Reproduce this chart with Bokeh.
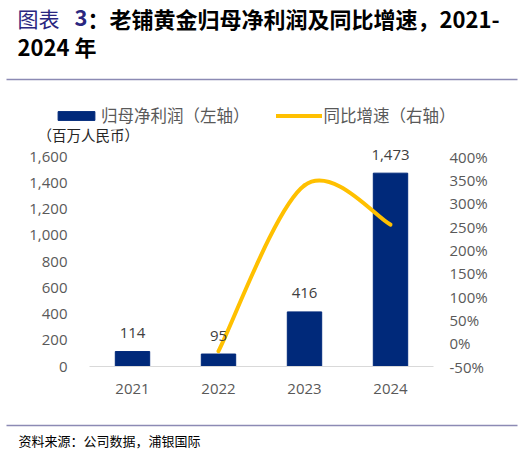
from bokeh.plotting import figure
from bokeh.layouts import column
from bokeh.models import (Range1d, LinearAxis, FixedTicker, NumeralTickFormatter,
                          PrintfTickFormatter, ColumnDataSource, LabelSet, Label,
                          Legend, LegendItem, BoxAnnotation)
from bokeh.core.properties import value
from bokeh.embed import file_html
from bokeh.resources import INLINE

years = ["2021", "2022", "2023", "2024"]
profit = [114, 95, 416, 1473]          # 百万人民币
growth = [None, -17, 338, 254]         # %
left_ticks = [0, 200, 400, 600, 800, 1000, 1200, 1400, 1600]
right_ticks = [-50, 0, 50, 100, 150, 200, 250, 300, 350, 400]

BAR = "#00297A"
GOLD = "#FFC000"
GRAY = "#595959"
RULE = "#8C8AB4"
TBLUE = "#2A2680"
CJK = "Noto Sans CJK SC"
NUM = "Open Sans"
W = 525
NAN = float("nan")

xs = [i + 1 for i in range(len(years))]


def blank(h, y0, y1):
    f = figure(width=W, height=h, x_range=Range1d(0, W), y_range=Range1d(y1, y0),
               x_axis_type=None, y_axis_type=None, output_backend="svg",
               toolbar_location=None, min_border=0, frame_align=False)
    f.outline_line_color = None
    f.xgrid.grid_line_color = None
    f.ygrid.grid_line_color = None
    return f


def lab(f, text, x, y, size, color, bold=False):
    f.add_layout(Label(x=x, y=y, text=text, text_font=CJK, text_font_size=size,
                       text_color=color, text_font_style="bold" if bold else "normal",
                       text_align="left", text_baseline="middle"))


def rule(f, y):
    f.add_layout(BoxAnnotation(left=6, right=517, top=y - 0.65, bottom=y + 0.65,
                               fill_color=RULE, fill_alpha=1, line_color=None))


FR_TOP = 144   # where the chart frame starts (pixels from page top)

# ---------- top block: title, rule, legend, unit ----------
top = blank(FR_TOP, 0, FR_TOP)
lab(top, "图表", 17, 17, "21px", TBLUE)
lab(top, "3", 74, 17, "22px", TBLUE, True)
lab(top, "：老铺黄金归母净利润及同比增速，2021-", 87, 17, "22px", "#000000", True)
lab(top, "2024 年", 17, 45, "22px", "#000000", True)
rule(top, 79)
lab(top, "（百万人民币）", 37, 134, "14.5px", "#262626")

proxy_bar = top.vbar(x=[NAN], top=[NAN], width=1, fill_color=BAR, line_color=BAR)
proxy_line = top.line(x=[NAN], y=[NAN], line_color=GOLD, line_width=4, line_cap="round")
leg = Legend(items=[LegendItem(label="归母净利润（左轴）", renderers=[proxy_bar]),
                    LegendItem(label="同比增速（右轴）", renderers=[proxy_line])],
             orientation="horizontal", location=(53, FR_TOP - 127),
             padding=0, margin=0, spacing=26, glyph_width=46, glyph_height=11,
             label_standoff=2, label_height=20,
             label_text_font=CJK, label_text_font_size="16.5px", label_text_color=GRAY,
             border_line_color=None, background_fill_alpha=0)
top.add_layout(leg, "center")

# ---------- main chart ----------
ZERO_Y, TOP_Y = 366, 156       # pixel rows of 0 and of the top tick
k = (ZERO_Y - FR_TOP) / (ZERO_Y - TOP_Y)
p = figure(width=W, height=415 - FR_TOP, x_range=Range1d(0.5, 4.5),
           y_range=Range1d(0, left_ticks[-1] * k),
           output_backend="svg", toolbar_location=None, frame_align=False,
           min_border_left=89, min_border_right=92, min_border_top=0,
           min_border_bottom=415 - ZERO_Y)
lo, hi = right_ticks[0], right_ticks[-1]
p.extra_y_ranges = {"g": Range1d(lo, lo + (hi - lo) * k)}
p.outline_line_color = None
p.xgrid.grid_line_color = None
p.ygrid.grid_line_color = None


def style(ax, standoff):
    ax.axis_line_color = None
    ax.major_tick_line_color = None
    ax.minor_tick_line_color = None
    ax.major_tick_out = 0
    ax.major_tick_in = 0
    ax.major_label_standoff = standoff
    ax.major_label_text_font = NUM
    ax.major_label_text_font_size = "15px"
    ax.major_label_text_color = GRAY


ya = p.yaxis[0]
ya.ticker = FixedTicker(ticks=left_ticks)
ya.formatter = NumeralTickFormatter(format="0,0")
style(ya, 22)

ra = LinearAxis(y_range_name="g", ticker=FixedTicker(ticks=right_ticks),
                formatter=PrintfTickFormatter(format="%d%%"))
style(ra, 16)
p.add_layout(ra, "right")

xa = p.xaxis[0]
xa.ticker = FixedTicker(ticks=xs)
xa.major_label_overrides = {x: y for x, y in zip(xs, years)}
style(xa, 17)
xa.axis_line_color = "#D9D9D9"
xa.axis_line_width = 1

src = ColumnDataSource(dict(x=xs, top=profit, lab=[f"{v:,}" for v in profit]))
p.vbar(x="x", top="top", width=0.4, source=src, fill_color=BAR, line_color=BAR)
p.add_layout(LabelSet(x="x", y="top", text="lab", source=src, y_offset=18.5,
                      text_align="center", text_baseline="middle",
                      text_font=value(NUM), text_font_size=value("15px"),
                      text_color="#404040"))

# smoothed growth line (Catmull-Rom style bezier through the points)
pts = [(x, g) for x, g in zip(xs, growth) if g is not None]
seg = dict(x0=[], y0=[], x1=[], y1=[], cx0=[], cy0=[], cx1=[], cy1=[])
for i in range(len(pts) - 1):
    pa = pts[i - 1] if i > 0 else pts[i]
    pb, pc = pts[i], pts[i + 1]
    pd = pts[i + 2] if i + 2 < len(pts) else pts[i + 1]
    seg["x0"].append(pb[0]); seg["y0"].append(pb[1])
    seg["x1"].append(pc[0]); seg["y1"].append(pc[1])
    seg["cx0"].append(pb[0] + (pc[0] - pa[0]) / 6); seg["cy0"].append(pb[1] + (pc[1] - pa[1]) / 6)
    seg["cx1"].append(pc[0] - (pd[0] - pb[0]) / 6); seg["cy1"].append(pc[1] - (pd[1] - pb[1]) / 6)
p.bezier(source=ColumnDataSource(seg), x0="x0", y0="y0", x1="x1", y1="y1",
         cx0="cx0", cy0="cy0", cx1="cx1", cy1="cy1",
         y_range_name="g", line_color=GOLD, line_width=4, line_cap="round")

# ---------- bottom block: rule, source ----------
bot = blank(451 - 415, 415, 451)
rule(bot, 425)
lab(bot, "资料来源：公司数据，浦银国际", 18, 440, "13px", "#000000")

layout = column(top, p, bot, spacing=0)
open("out.html", "w").write(file_html(layout, INLINE))
